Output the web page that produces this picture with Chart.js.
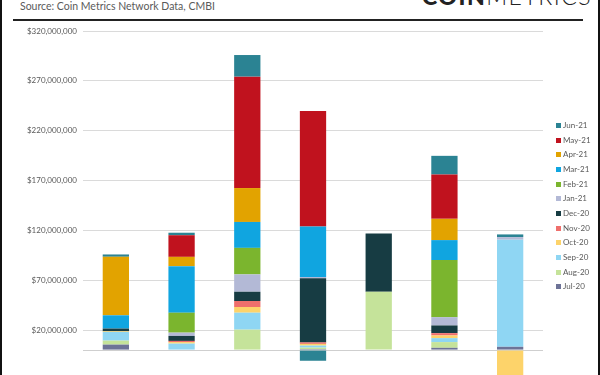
<!DOCTYPE html>
<html>
<head>
<meta charset="utf-8">
<script src="https://cdn.jsdelivr.net/npm/chart.js@4"></script>
<style>
  html, body { margin: 0; padding: 0; width: 600px; height: 375px; overflow: hidden; background: #fff; }
  #frame { position: absolute; left: 0; top: 0; width: 596px; height: 375px; border-left: 2px solid #111; border-right: 2px solid #111; }
  #source { position: absolute; left: 20px; top: 0px; font: 10.5px Lato, sans-serif; color: #5a5a5a; line-height: 12px; white-space: nowrap; }
  #logo { position: absolute; left: 422px; top: -16px; font: 23px Lato, sans-serif; color: #222; letter-spacing: 1.5px; white-space: nowrap; line-height: 24px; }
  #logo b { font-weight: 900; }
  #logo span { font-weight: 300; }
  #rule { position: absolute; left: 13px; top: 19px; width: 570px; height: 2px; background: #222; }
  #wrap { position: absolute; left: 0; top: 0; width: 600px; height: 400px; }
  #legend { position: absolute; left: 556px; top: 118px; font: 8px Lato, sans-serif; color: #595959; }
  #legend div { height: 14.67px; line-height: 14.67px; white-space: nowrap; }
  #legend i { display: inline-block; width: 5px; height: 5px; margin-right: 2px; vertical-align: 0px; }
</style>
</head>
<body>
<div id="frame"></div>
<div id="source">Source: Coin Metrics Network Data, CMBI</div>
<div id="logo"><b>COIN</b><span>METRICS</span></div>
<div id="rule"></div>
<div id="wrap"><canvas id="c" width="600" height="400"></canvas></div>
<div id="legend"></div>
<script>
// Values in millions of USD, one entry per bar (7 bars; axis labels not visible in the crop)
const categories = ['1', '2', '3', '4', '5', '6', '7'];
const months = ['Jul-20','Aug-20','Sep-20','Oct-20','Nov-20','Dec-20','Jan-21','Feb-21','Mar-21','Apr-21','May-21','Jun-21'];
const jul20 = [5.5, 0, 0.5, 1, 0, 2.3, 3.3];
const aug20 = [4, 0, 20, 1.5, 58.5, 5.7, 0];
const sep20 = [8.7, 6.5, 17, 2, 0, 4, 107.4];
const oct20 = [0.7, 1.5, 5.7, 1.7, 0, 2.7, -25];
const nov20 = [0, 1.2, 6, 1.5, 0, 2.3, 0];
const dec20 = [2.7, 5, 9.3, 64.3, 58.5, 7.7, 0];
const jan21 = [0, 3.3, 17.4, 1.3, 0, 8.3, 2.6];
const feb21 = [0, 20, 26.6, 0, 0, 57.3, 0];
const mar21 = [13.3, 46.7, 26, 50.7, 0, 20, 0];
const apr21 = [58.7, 9.3, 34, 0, 0, 21.3, 0];
const may21 = [0, 21.7, 111.7, 115.7, 0, 44.5, 0];
const jun21 = [2.3, 2.5, 21.7, -10.7, 0, 18.7, 2.7];
const seriesValues = [jul20, aug20, sep20, oct20, nov20, dec20, jan21, feb21, mar21, apr21, may21, jun21];
const seriesColors = ['#6d7397','#c5e39a','#8fd6f3','#fdd36a','#ef6f6c','#173c43','#b3b9d6','#7bb52e','#10a5e0','#e2a300','#c0121e','#2b8393'];
const yTicks = { min: -30, max: 320, step: 50 };
const UNIT = 1e6;

const datasets = months.map((m, i) => ({
  label: m,
  data: seriesValues[i].map(v => v * UNIT),
  backgroundColor: seriesColors[i],
  borderWidth: 0,
  categoryPercentage: 1,
  barPercentage: 0.4
}));

const fmt = v => (v < 0 ? '-$' : '$') + Math.abs(v).toLocaleString('en-US');

new Chart(document.getElementById('c'), {
  type: 'bar',
  data: { labels: categories, datasets },
  options: {
    responsive: false,
    devicePixelRatio: 1,
    animation: false,
    layout: { padding: { top: 31, right: 57, bottom: 20, left: 0 } },
    plugins: { legend: { display: false }, tooltip: { enabled: false } },
    scales: {
      x: {
        stacked: true,
        ticks: { display: false },
        grid: { display: false },
        border: { display: false },
        afterFit: a => { a.height = 0; }
      },
      y: {
        stacked: true,
        min: yTicks.min * UNIT,
        max: yTicks.max * UNIT,
        ticks: {
          stepSize: yTicks.step * UNIT,
          padding: 6,
          color: '#595959',
          font: { family: 'Lato', size: 8 },
          callback: v => (v === 0 ? '' : fmt(v))
        },
        afterBuildTicks: a => {
          if (!a.ticks.some(t => t.value === 0)) a.ticks.push({ value: 0 });
          a.ticks.sort((p, q) => p.value - q.value);
        },
        grid: { color: ctx => (ctx.tick && ctx.tick.value === 0 ? '#cfcfcf' : '#dadada'), drawTicks: false, lineWidth: 1 },
        border: { display: false },
        afterFit: a => { a.width = 83; }
      }
    }
  }
});

const legend = document.getElementById('legend');
months.slice().reverse().forEach((m, k) => {
  const i = months.length - 1 - k;
  const d = document.createElement('div');
  d.innerHTML = '<i style="background:' + seriesColors[i] + '"></i>' + m;
  legend.appendChild(d);
});
</script>
</body>
</html>
